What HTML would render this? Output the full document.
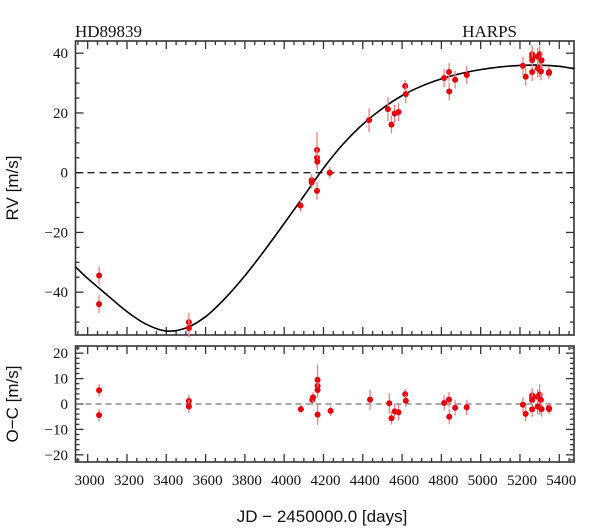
<!DOCTYPE html>
<html><head><meta charset="utf-8"><style>
html,body{margin:0;padding:0;background:#fff;}
svg{display:block;}
</style></head><body>
<svg id="chart" width="600" height="529" viewBox="0 0 600 529" xmlns="http://www.w3.org/2000/svg"></svg>
<script>
// ---- data ----
const rvDates = [3058,3058,3515,3515,4083,4140,4140,4167,4167,4169,4167,4232,4432,4528,4546,4562,4582,4616,4619,4814,4839,4840,4870,4929,5215,5229,5262,5262,5262,5262,5290,5300,5290,5300,5307,5310,5347,5348];
const rvValues = [-34.4,-44,-50,-52,-11,-2.5,-3.3,7.6,5,3.7,-6.1,0,17.6,21.3,16.1,19.8,20.3,29,26.3,31.7,33.7,27.2,31.1,32.7,35.8,32.1,39.7,38.8,37.7,33.7,38.8,39.6,34.9,35.1,33.9,37.6,33.3,33.7];
const rvErrors = [3,3,3,3,2,2,2,6,3,3,3,2,4,4,3,3,3,2,3,3,3,3,3,3,3,3,3,3,3,3,3,3,3,3,3,3,2,2];
const ocDates = [3058,3058,3515,3515,4085,4143,4147,4170,4170,4170,4170,4236,4437,4535,4546,4562,4582,4616,4619,4814,4839,4840,4870,4929,5215,5229,5262,5262,5262,5262,5290,5300,5290,5300,5307,5310,5347,5348];
const ocValues = [5.4,-4.4,1.2,-1.0,-2,1.6,2.6,7.2,9.5,5.5,-4.2,-2.7,1.7,0.3,-5.6,-2.9,-3.3,3.9,1.3,0.4,1.7,-5,-1.5,-1.3,-0.3,-3.9,3.4,2.4,1.5,-2.1,2.8,3.7,-1.0,-1.2,1.6,-2,-1.5,-2];
const ocErrors = [2.5,2.5,2.5,2.5,1.5,2,2,3,6,3,4,2,4,4,2.5,3,3,2,2.5,3,3,3,3,3,3,3,3,3,3,3,3,4,3,3,3,3,2,2];
const modelDates = [2938,3000,3100,3200,3300,3400,3500,3600,3700,3800,3900,4000,4100,4200,4300,4400,4500,4600,4700,4800,4900,5000,5100,5200,5300,5400,5475];
const modelValues = [-31.5,-35.4,-41,-46.5,-50.8,-53,-52,-48.2,-42,-34.5,-26,-17,-7.8,1.5,9.6,16.2,21.5,25.8,29,31.4,33.2,34.5,35.4,35.9,36,35.6,34.8];
const xTicks = [3000,3200,3400,3600,3800,4000,4200,4400,4600,4800,5000,5200,5400];
const rvTicks = [40,20,0,-20,-40];
const ocTicks = [20,10,0,-10,-20];

// ---- axes ----
const X0=75.5, X1=574;
const D0=2938, D1=5475;
const xs = d => X0 + (d-D0)*(X1-X0)/(D1-D0);
const T0=41, T1=335;
const ysTop = v => 172.7 - v*2.9875;
const B0=346, B1=462;
const ysBot = v => 404 - v*2.54;

const NS="http://www.w3.org/2000/svg";
const svgEl=document.getElementById('chart');
function mk(tag, attrs, parent){const e=document.createElementNS(NS,tag);for(const k in attrs)e.setAttribute(k,attrs[k]);(parent||svgEl).appendChild(e);return e;}

function panel(name, y0, y1, ys, vmin, vmax, majorStep, minorStep, labels){
  const g=mk('g',{});
  
  
  for(let d=2950; d<=D1; d+=50){
    const x=xs(d); const major=(d%200===0);
    const L= major?8:4;
    mk('line',{x1:x,y1:y0,x2:x,y2:y0+L,stroke:'#333','stroke-width':1.3},g);
    mk('line',{x1:x,y1:y1,x2:x,y2:y1-L,stroke:'#333','stroke-width':1.3},g);
  }
  for(let v=Math.ceil(vmin/minorStep)*minorStep; v<=vmax; v+=minorStep){
    const y=ys(v); const major=Math.abs(v%majorStep)<1e-6;
    const L= major?8:4;
    mk('line',{x1:X0,y1:y,x2:X0+L,y2:y,stroke:'#333','stroke-width':1.3},g);
    mk('line',{x1:X1,y1:y,x2:X1-L,y2:y,stroke:'#333','stroke-width':1.3},g);
  }
  mk('rect',{x:X0,y:y0,width:X1-X0,height:y1-y0,fill:'none',stroke:'#333','stroke-width':1.6},g);
  labels.forEach(v=>{
    const t=mk('text',{x:68,y:ys(v)+5,'text-anchor':'end','font-family':'Liberation Serif, serif','font-size':15,fill:'#111'},g);
    
    
    t.textContent = v<0 ? '\u2212'+(-v) : String(v);
  });
  return g;
}

const topPanel = panel('rv-panel', T0, T1, ysTop, -54, 44, 20, 5, rvTicks);
const botPanel = panel('residual-panel', B0, B1, ysBot, -22.5, 22, 10, 2, ocTicks);

const z1=mk('line',{x1:X0,y1:ysTop(0),x2:X1,y2:ysTop(0),stroke:'#222','stroke-width':1.4,'stroke-dasharray':'7,5'});


const z2=mk('line',{x1:X0,y1:ysBot(0),x2:X1,y2:ysBot(0),stroke:'#555','stroke-width':1,'stroke-dasharray':'6,4'});



(function(){
  const pts=modelDates.map((d,i)=>[xs(d),ysTop(modelValues[i])]);
  let p='M'+pts[0][0]+','+pts[0][1];
  for(let i=0;i<pts.length-1;i++){
    const a=pts[Math.max(0,i-1)], b=pts[i], c=pts[i+1], e=pts[Math.min(pts.length-1,i+2)];
    const c1=[b[0]+(c[0]-a[0])/6, b[1]+(c[1]-a[1])/6];
    const c2=[c[0]-(e[0]-b[0])/6, c[1]-(e[1]-b[1])/6];
    p+=' C'+c1[0]+','+c1[1]+' '+c2[0]+','+c2[1]+' '+c[0]+','+c[1];
  }
  const cp=mk('clipPath',{id:'clipTop'});
  mk('rect',{x:X0,y:T0,width:X1-X0,height:T1-T0},cp);
  const path=mk('path',{d:p,fill:'none',stroke:'#000','stroke-width':1.6,'clip-path':'url(#clipTop)'});
  
  
})();

function drawPoints(dates, vals, errs, ys, nm){
  dates.forEach((d,i)=>{
    const x=xs(d), y=ys(vals[i]);
    const eb=mk('line',{x1:x,y1:ys(vals[i]+errs[i]),x2:x,y2:ys(vals[i]-errs[i]),stroke:'#f08080','stroke-width':1.3});
    
    
    const c=mk('circle',{cx:x,cy:y,r:3,fill:'#e8000b'});
    
    
  });
}
drawPoints(rvDates, rvValues, rvErrors, ysTop, 'rv');
drawPoints(ocDates, ocValues, ocErrors, ysBot, 'residual');

xTicks.forEach(d=>{
  const t=mk('text',{x:xs(d)+2,y:485,'text-anchor':'middle','font-family':'Liberation Serif, serif','font-size':15,fill:'#111'});
  
  
  t.textContent=String(d);
});

function txt(s, attrs, name){const t=mk('text',attrs);t.textContent=s;return t;}
txt('HD89839',{x:75,y:37,'font-family':'Liberation Serif, serif','font-size':17,fill:'#111'},'star-name-label');
txt('HARPS',{x:517,y:37,'text-anchor':'end','font-family':'Liberation Serif, serif','font-size':17,fill:'#111'},'instrument-label');
txt('RV [m/s]',{x:0,y:0,transform:'translate(18,188) rotate(-90)','text-anchor':'middle','font-family':'Liberation Sans, sans-serif','font-size':17,fill:'#111'},'rv-axis-title');
txt('O\u2212C [m/s]',{x:0,y:0,transform:'translate(18,404) rotate(-90)','text-anchor':'middle','font-family':'Liberation Sans, sans-serif','font-size':17,fill:'#111'},'residual-axis-title');
txt('JD \u2212 2450000.0 [days]',{x:322,y:522,'text-anchor':'middle','font-family':'Liberation Sans, sans-serif','font-size':17,fill:'#111'},'x-axis-title');
</script>
</body></html>
